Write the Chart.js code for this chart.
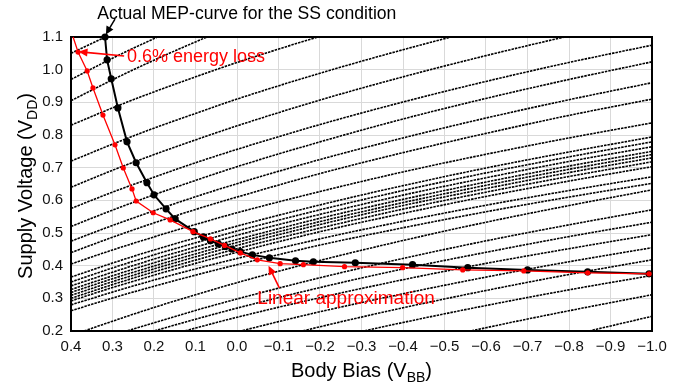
<!DOCTYPE html>
<html><head><meta charset="utf-8">
<script src="https://cdn.jsdelivr.net/npm/chart.js@4"></script>
<style>html,body{margin:0;padding:0;background:#fff;} #wrap{width:688px;height:385px;}</style>
</head><body><div id="wrap"><canvas id="c" width="688" height="385"></canvas></div>
<script>
// ---------- data ----------
const xTicks = [0.4,0.3,0.2,0.1,0.0,-0.1,-0.2,-0.3,-0.4,-0.5,-0.6,-0.7,-0.8,-0.9,-1.0];
const yTicks = [0.2,0.3,0.4,0.5,0.6,0.7,0.8,0.9,1.0,1.1];

// sample positions (body bias) at which each dotted contour was read
const contourX = [0.4, 0.3, 0.2, 0.1, 0.0, -0.2, -0.4, -0.6, -0.8, -1.0];

// contours leaving through the top edge
const topContours = [
 [1.05, 1.110, 1.167, 1.220, 1.270, 1.363, 1.446, 1.523, 1.593, 1.658],
 [0.97, 1.035, 1.095, 1.152, 1.206, 1.305, 1.394, 1.475, 1.551, 1.620],
 [0.905, 0.969, 1.029, 1.085, 1.138, 1.236, 1.324, 1.405, 1.479, 1.548],
 [0.83, 0.883, 0.932, 0.978, 1.022, 1.102, 1.175, 1.241, 1.302, 1.359],
 [0.72, 0.772, 0.821, 0.866, 0.910, 0.989, 1.061, 1.127, 1.187, 1.243],
 [0.64, 0.692, 0.740, 0.785, 0.828, 0.907, 0.978, 1.043, 1.103, 1.158]
];
// upper contours reaching the right edge
const upperContours = [
 [0.575, 0.625, 0.671, 0.715, 0.756, 0.832, 0.901, 0.964, 1.022, 1.075],
 [0.52, 0.570, 0.617, 0.661, 0.703, 0.779, 0.849, 0.912, 0.970, 1.024],
 [0.475, 0.523, 0.568, 0.611, 0.651, 0.725, 0.791, 0.852, 0.908, 0.960],
 [0.44, 0.487, 0.531, 0.572, 0.610, 0.682, 0.746, 0.805, 0.860, 0.910],
 [0.405, 0.448, 0.488, 0.526, 0.562, 0.627, 0.687, 0.741, 0.791, 0.837]
];
// dense bundle
const bundleContours = [
 [0.365, 0.408, 0.448, 0.485, 0.521, 0.586, 0.645, 0.699, 0.748, 0.794],
 [0.35, 0.393, 0.433, 0.470, 0.506, 0.571, 0.630, 0.684, 0.733, 0.779],
 [0.338, 0.380, 0.420, 0.457, 0.493, 0.557, 0.616, 0.669, 0.719, 0.764],
 [0.327, 0.369, 0.409, 0.446, 0.480, 0.545, 0.603, 0.656, 0.705, 0.750],
 [0.318, 0.360, 0.399, 0.436, 0.471, 0.535, 0.593, 0.646, 0.695, 0.740],
 [0.309, 0.351, 0.390, 0.427, 0.462, 0.526, 0.584, 0.636, 0.685, 0.730],
 [0.300, 0.342, 0.381, 0.417, 0.452, 0.515, 0.573, 0.625, 0.673, 0.718],
 [0.292, 0.333, 0.371, 0.407, 0.441, 0.504, 0.560, 0.612, 0.659, 0.703]
];
// lower contours
const lowerContours = [
 [0.28, 0.319, 0.356, 0.390, 0.422, 0.482, 0.536, 0.585, 0.630, 0.672],
 [0.262, 0.301, 0.337, 0.371, 0.403, 0.463, 0.516, 0.565, 0.610, 0.652],
 [0.186, 0.230, 0.272, 0.311, 0.348, 0.416, 0.477, 0.533, 0.584, 0.632],
 [0.143, 0.186, 0.225, 0.263, 0.298, 0.363, 0.422, 0.476, 0.525, 0.571],
 [0.121, 0.162, 0.200, 0.236, 0.270, 0.333, 0.390, 0.441, 0.489, 0.533],
 [0.098, 0.137, 0.174, 0.209, 0.242, 0.302, 0.357, 0.407, 0.452, 0.495],
 [0.051, 0.091, 0.129, 0.164, 0.197, 0.259, 0.314, 0.365, 0.412, 0.455],
 [-0.004, 0.038, 0.077, 0.114, 0.149, 0.213, 0.271, 0.324, 0.373, 0.418],
 [-0.043, -0.002, 0.037, 0.073, 0.107, 0.170, 0.226, 0.278, 0.326, 0.370],
 [-0.145, -0.100, -0.057, -0.017, 0.020, 0.090, 0.152, 0.210, 0.262, 0.311],
 [-0.321, -0.265, -0.212, -0.162, -0.116, -0.030, 0.048, 0.119, 0.185, 0.245]
];

// actual MEP curve (black)
const mepX = [0.318,0.313,0.303,0.287,0.265,0.243,0.217,0.200,0.171,0.149,0.103,0.081,0.064,0.045,0.028,0.012,-0.008,-0.037,-0.078,-0.141,-0.184,-0.285,-0.423,-0.556,-0.700,-0.845,-0.993];
const mepV = [1.100,1.030,0.972,0.883,0.779,0.715,0.654,0.617,0.574,0.543,0.504,0.488,0.476,0.467,0.459,0.451,0.443,0.433,0.424,0.415,0.412,0.409,0.403,0.394,0.387,0.381,0.375];
// linear approximation (red)
const linX = [0.395,0.383,0.361,0.347,0.323,0.294,0.274,0.253,0.243,0.202,0.161,0.106,0.064,0.030,-0.008,-0.049,-0.104,-0.160,-0.259,-0.399,-0.544,-0.691,-0.845,-0.993];
const linV = [1.100,1.054,0.996,0.944,0.861,0.770,0.699,0.635,0.598,0.562,0.540,0.504,0.482,0.462,0.439,0.418,0.406,0.403,0.397,0.394,0.387,0.384,0.378,0.375];

// ---------- chart ----------
const FONT = '"Liberation Sans", Arial, Helvetica, sans-serif';
const pts = (xs, ys) => xs.map((x, i) => ({x: x, y: ys[i]}));
const fmt = v => (Math.abs(v) < 1e-9 ? '0.0' : Number(v).toFixed(1)).replace('-', '\u2212');

const datasets = [];
datasets.push({
  data: pts(linX, linV), borderColor: '#ff0000', backgroundColor: '#ff0000',
  borderWidth: 1.3, pointRadius: linX.map((_, i) => i === 0 ? 0 : 2.6), pointBorderWidth: 0,
  clip: false, order: 0
});
datasets.push({
  data: pts(mepX, mepV), borderColor: '#000', backgroundColor: '#000',
  borderWidth: 2, pointRadius: 3.6, pointBorderWidth: 0, clip: false, order: 1
});
[topContours, upperContours, bundleContours, lowerContours].forEach(group => {
  group.forEach(vals => datasets.push({
    data: pts(contourX, vals), borderColor: '#000', borderWidth: 1.6,
    borderDash: [2.5, 1], pointRadius: 0, cubicInterpolationMode: 'monotone', order: 10
  }));
});

function drawSub(ctx, parts, cx, baseline, size) {
  let w = 0;
  parts.forEach(p => { ctx.font = (p[1] ? size * 0.7 : size) + 'px ' + FONT; w += ctx.measureText(p[0]).width; });
  let x = cx - w / 2;
  ctx.textAlign = 'left'; ctx.textBaseline = 'alphabetic';
  parts.forEach(p => {
    ctx.font = (p[1] ? size * 0.7 : size) + 'px ' + FONT;
    ctx.fillText(p[0], x, baseline + (p[1] ? size * 0.25 : 0));
    x += ctx.measureText(p[0]).width;
  });
}
function arrow(ctx, x1, y1, x2, y2, color, lw, hl, hw) {
  const ang = Math.atan2(y2 - y1, x2 - x1);
  ctx.strokeStyle = color; ctx.fillStyle = color; ctx.lineWidth = lw;
  ctx.beginPath(); ctx.moveTo(x1, y1);
  ctx.lineTo(x2 - Math.cos(ang) * hl * 0.8, y2 - Math.sin(ang) * hl * 0.8); ctx.stroke();
  ctx.beginPath(); ctx.moveTo(x2, y2);
  ctx.lineTo(x2 - Math.cos(ang) * hl + Math.sin(ang) * hw, y2 - Math.sin(ang) * hl - Math.cos(ang) * hw);
  ctx.lineTo(x2 - Math.cos(ang) * hl - Math.sin(ang) * hw, y2 - Math.sin(ang) * hl + Math.cos(ang) * hw);
  ctx.closePath(); ctx.fill();
}

const deco = {
  id: 'deco',
  beforeDatasetsDraw(chart) {
    const {ctx, chartArea: a} = chart;
    ctx.save(); ctx.strokeStyle = '#000'; ctx.lineWidth = 2;
    ctx.strokeRect(a.left, a.top, a.right - a.left, a.bottom - a.top);
    ctx.restore();
  },
  afterDraw(chart) {
    const {ctx, chartArea: a, scales: {x, y}} = chart;
    const px = v => x.getPixelForValue(v), py = v => y.getPixelForValue(v);
    ctx.save();
    ctx.fillStyle = '#000'; ctx.font = '17.6px ' + FONT; ctx.textAlign = 'left'; ctx.textBaseline = 'middle';
    ctx.fillText('Actual MEP-curve for the SS condition', px(0.337), py(1.170));
    arrow(ctx, px(0.294), py(1.155), px(0.316), py(1.108), '#000', 1.5, 8, 4);

    ctx.fillStyle = '#ff0000'; ctx.font = '18px ' + FONT;
    ctx.fillText('0.6% energy loss', px(0.265), py(1.039));
    arrow(ctx, px(0.272), py(1.042), px(0.382), py(1.055), '#ff0000', 1.6, 9, 4);

    ctx.fillStyle = '#ff0000'; ctx.font = '19px ' + FONT;
    ctx.fillText('Linear approximation', px(-0.049), py(0.299));
    arrow(ctx, px(-0.102), py(0.332), px(-0.076), py(0.400), '#ff0000', 1.6, 9, 4);

    ctx.fillStyle = '#000';
    drawSub(ctx, [['Body Bias (V', false], ['BB', true], [')', false]], (a.left + a.right) / 2, 377, 20);
    ctx.translate(32, (a.top + a.bottom) / 2 + 2);
    ctx.rotate(-Math.PI / 2);
    drawSub(ctx, [['Supply Voltage (V', false], ['DD', true], [')', false]], 0, 0, 20);
    ctx.restore();
  }
};

new Chart(document.getElementById('c'), {
  type: 'line',
  data: {datasets: datasets},
  plugins: [deco],
  options: {
    responsive: false, animation: false, devicePixelRatio: 1, events: [],
    layout: {padding: {top: 37, right: 36, left: 0, bottom: 0}},
    plugins: {legend: {display: false}, tooltip: {enabled: false}},
    elements: {line: {tension: 0}},
    scales: {
      x: {
        type: 'linear', min: -1.0, max: 0.4, reverse: true,
        afterFit(s) { s.height = 54; },
        afterBuildTicks(s) { s.ticks = xTicks.map(v => ({value: v})); },
        grid: {color: '#d9d9d9', lineWidth: 1, drawTicks: false},
        border: {display: false},
        ticks: {padding: 7, color: '#111', font: {family: FONT, size: 15}, callback: v => fmt(v), maxRotation: 0, autoSkip: false}
      },
      y: {
        type: 'linear', min: 0.2, max: 1.1,
        afterFit(s) { s.width = 71; },
        afterBuildTicks(s) { s.ticks = yTicks.map(v => ({value: v})); },
        grid: {color: '#d9d9d9', lineWidth: 1, drawTicks: false},
        border: {display: false},
        ticks: {padding: 8, color: '#111', font: {family: FONT, size: 15}, callback: v => fmt(v), autoSkip: false}
      }
    }
  }
});
</script></body></html>
